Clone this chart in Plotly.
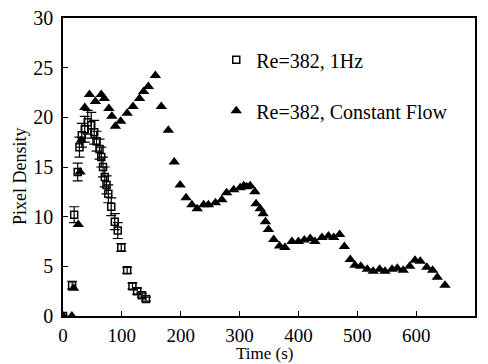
import plotly.graph_objects as go

# 1 Hz pulsatile flow (open squares, with error bars)
t_1hz = [0, 15.5, 19, 25, 28, 32, 37, 42, 48, 53, 57, 62, 65, 68, 71, 74, 77, 82, 88, 93, 99, 109, 118, 126, 134, 141]
y_1hz = [0, 3.1, 10.2, 14.5, 17.0, 18.2, 18.8, 19.5, 19.2, 18.5, 17.6, 16.8, 16.0, 15.0, 14.0, 13.2, 12.3, 11.0, 9.5, 8.6, 6.9, 4.6, 3.0, 2.5, 2.1, 1.7]
err_1hz = [0, 0.4, 0.8, 0.9, 1.0, 1.2, 1.3, 1.2, 1.3, 1.2, 1.0, 1.0, 1.0, 1.0, 1.0, 0.9, 0.9, 0.9, 0.8, 0.8, 0.4, 0.3, 0.3, 0.3, 0.2, 0.2]

# Constant flow (filled triangles)
t_cf = [0, 15, 18, 26, 29, 31, 37, 45, 55, 65, 70, 78, 83, 89, 98, 109, 119, 130, 137, 145, 157,
        167, 179, 189, 199, 209, 219, 228, 239, 247, 259, 270, 278, 290, 301, 307, 312, 318, 326,
        328, 335, 340, 344, 349, 358, 368, 377, 389, 400, 410, 420, 428, 440, 451, 460, 470, 478,
        488, 496, 506, 517, 527, 538, 547, 559, 568, 578, 589, 598, 607, 618, 628, 636, 649]
y_cf = [0, 0, 2.8, 9.2, 14.5, 17.7, 21.0, 22.3, 21.6, 22.3, 21.9, 20.9, 20.1, 19.1, 19.6, 20.4, 21.1, 21.9, 22.6, 23.1, 24.2,
        21.1, 18.7, 15.5, 13.2, 11.9, 11.2, 10.8, 11.2, 11.2, 11.4, 11.7, 12.4, 12.7, 12.9, 13.1, 13.0, 13.1, 12.5,
        11.3, 10.8, 10.3, 9.5, 8.7, 7.7, 7.05, 6.9, 7.5, 7.5, 7.65, 7.8, 7.5, 7.9, 8.05, 7.9, 8.2, 7.0,
        5.7, 5.1, 5.0, 4.7, 4.5, 4.7, 4.5, 4.7, 4.8, 4.6, 5.0, 5.6, 5.5, 4.9, 4.6, 3.9, 3.1]

x_ticks = [0, 100, 200, 300, 400, 500, 600, 700]
y_ticks = [0, 5, 10, 15, 20, 25, 30]

x_title = "Time (s)"
y_title = "Pixel Density"

FONT = "Liberation Serif, Times New Roman, serif"

fig = go.Figure()
fig.add_trace(go.Scatter(
    x=t_1hz, y=y_1hz, mode="markers", name="Re=382, 1Hz",
    marker=dict(symbol="square-open", size=7, color="black", line=dict(width=1.5, color="black")),
    error_y=dict(type="data", array=err_1hz, visible=True, color="black", thickness=1.2, width=5),
    legendgroup="a",
))
fig.add_trace(go.Scatter(
    x=t_cf, y=y_cf, mode="markers", name="Re=382, Constant Flow",
    marker=dict(symbol="triangle-up", size=10, color="black"),
    legendgroup="b",
))

axis_common = dict(
    showline=True, linecolor="black", linewidth=1.5, mirror=True,
    ticks="inside", ticklen=5, tickcolor="black", tickwidth=1,
    showgrid=False, zeroline=False, automargin=False,
)

fig.update_layout(
    width=488, height=364,
    margin=dict(l=63, r=13, t=18, b=48),
    paper_bgcolor="white", plot_bgcolor="white",
    font=dict(family=FONT, color="black"),
    xaxis=dict(range=[0, 700], tickvals=x_ticks, ticktext=[str(v) for v in x_ticks],
               ticklabelstandoff=1, tickfont=dict(family=FONT, size=19, color="black"),
               **axis_common),
    yaxis=dict(range=[0, 30], tickvals=y_ticks, ticktext=[str(v) for v in y_ticks],
               ticklabelstandoff=4, tickfont=dict(family=FONT, size=20, color="black"),
               **axis_common),
    legend=dict(x=0.372, y=0.925, xanchor="left", yanchor="top",
                font=dict(family=FONT, size=20, color="black"),
                bgcolor="rgba(0,0,0,0)", tracegroupgap=22, itemsizing="trace"),
    showlegend=True,
    annotations=[
        dict(text=x_title, xref="paper", yref="paper", x=0.49, y=0, xanchor="center",
             yanchor="bottom", yshift=-48, showarrow=False, borderpad=0,
             font=dict(family=FONT, size=17, color="black")),
        dict(text=y_title, xref="paper", yref="paper", x=0, y=0.47, xanchor="center",
             yanchor="middle", xshift=-43, textangle=-90, showarrow=False,
             font=dict(family=FONT, size=18, color="black")),
    ],
)

fig.write_html("out.html")
